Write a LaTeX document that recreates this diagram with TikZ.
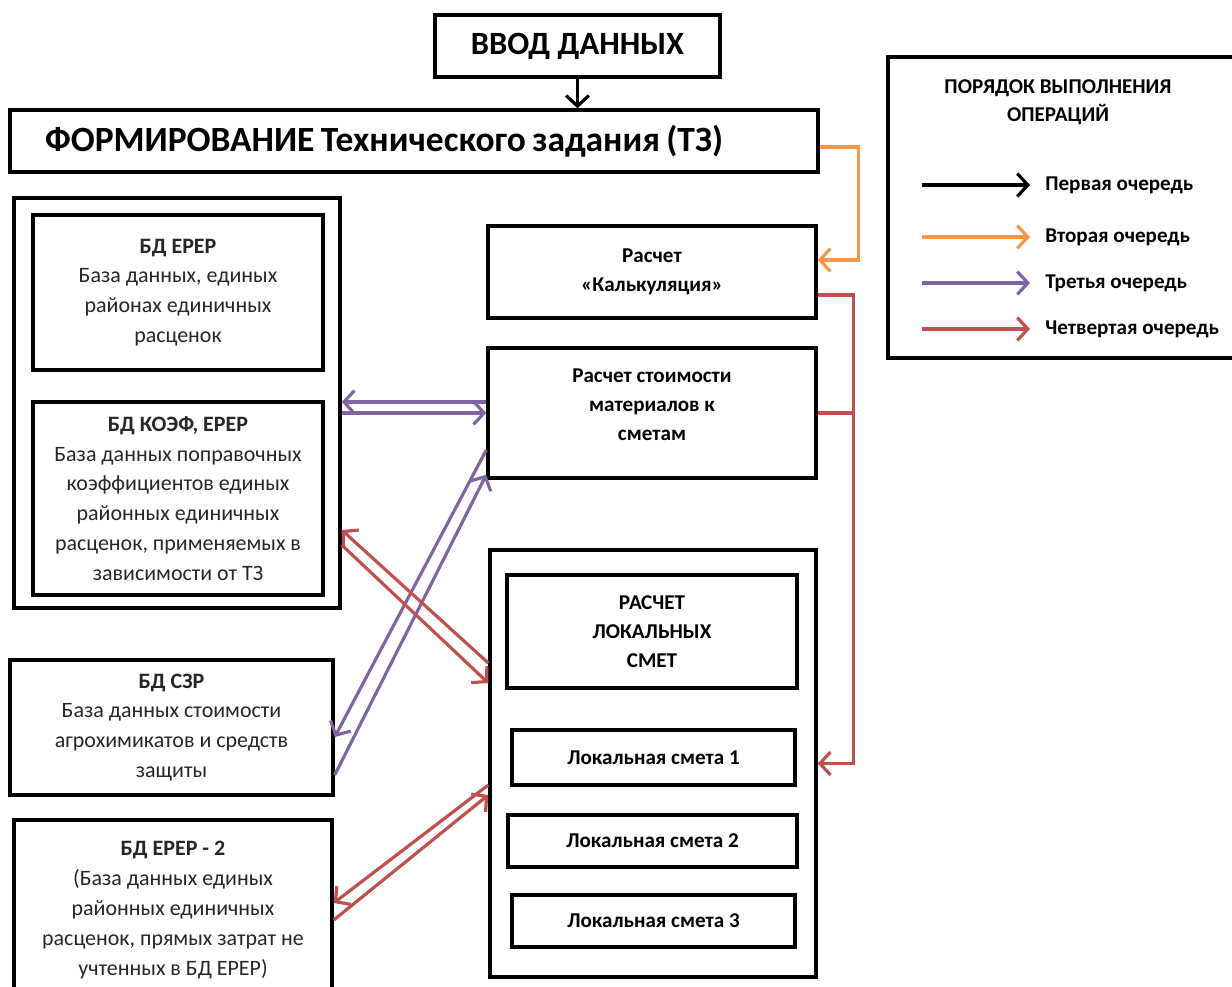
\documentclass[tikz,border=0pt]{standalone}
\usepackage{fontspec}
\setmainfont{Carlito}
\usepackage{tikz}
\usetikzlibrary{arrows.meta}

\definecolor{OpOrange}{HTML}{F79646}
\definecolor{OpPurple}{HTML}{8064A2}
\definecolor{OpRed}{HTML}{C0504D}

\begin{document}
\begin{tikzpicture}[x=0.02cm, y=-0.02cm,
        box/.style={draw, line width=2pt, align=center, inner sep=0pt, text=black!85, font=\fontsize{12.5}{17}\selectfont},
        boldbox/.style={box, text=black, font=\bfseries\fontsize{12}{16.5}\selectfont},
        link/.style={line width=1.8pt, -{Straight Barb[length=6pt,width=13pt]}},
        legtext/.style={anchor=west, inner xsep=0.3cm, font=\bfseries\fontsize{12}{16}\selectfont}]
            \useasboundingbox (0,0) rectangle (1232,987);

            % Top: input and technical task
            \node [boldbox, minimum width=5.7cm, minimum height=1.24cm, font=\bfseries\fontsize{18.5}{22}\selectfont] (vvod) at (577.5,46) {ВВОД ДАННЫХ};
            \node [boldbox, minimum width=16.16cm, minimum height=1.24cm, text width=14.76cm, inner xsep=0.7cm, align=left, font=\bfseries\fontsize{20.2}{23}\selectfont] (tz) at (414,141) {\spaceskip=0.18em ФОРМИРОВАНИЕ Технического задания (ТЗ)};
            \draw [link, color=black] (vvod.south) -- (vvod.south |- tz.north);

            % Left databases
            \node [box, minimum width=6.52cm, minimum height=8.2cm] (grp) at (177,403) {};
            \node [box, minimum width=5.8cm, minimum height=3.1cm] (erep) at (178,292.5) {\textbf{БД ЕРЕР}\\База данных, единых\\районах единичных\\расценок};
            \node [box, minimum width=5.8cm, minimum height=3.86cm] (koef) at (178,498.5) {\textbf{БД КОЭФ, ЕРЕР}\\База данных поправочных\\коэффициентов единых\\районных единичных\\расценок, применяемых в\\зависимости от ТЗ};
            \node [box, minimum width=6.46cm, minimum height=2.7cm] (szr) at (171.5,727.5) {\textbf{БД СЗР}\\База данных стоимости\\агрохимикатов и средств\\защиты};
            \node [box, minimum width=6.36cm, minimum height=3.6cm] (erep2) at (173,910) {\textbf{БД ЕРЕР - 2}\\(База данных единых\\районных единичных\\расценок, прямых затрат не\\учтенных в БД ЕРЕР)};

            % Calculations
            \node [boldbox, minimum width=6.56cm, minimum height=1.84cm] (kalk) at (652,272) {Расчет\\«Калькуляция»};
            \node [boldbox, minimum width=6.56cm, minimum height=2.6cm, text depth=0.34cm] (mat) at (652,413) {Расчет стоимости\\материалов к\\сметам};
            \node [box, minimum width=6.52cm, minimum height=8.54cm] (lok) at (653,763.5) {};
            \node [boldbox, minimum width=5.8cm, minimum height=2.26cm] (raschet) at (652,631.5) {РАСЧЕТ\\ЛОКАЛЬНЫХ\\СМЕТ};
            \node [boldbox, minimum width=5.66cm, minimum height=1.1cm] (sm1) at (653.5,757.5) {Локальная смета 1};
            \node [boldbox, minimum width=5.78cm, minimum height=1.04cm] (sm2) at (652.5,841) {Локальная смета 2};
            \node [boldbox, minimum width=5.66cm, minimum height=1.04cm] (sm3) at (653.5,921) {Локальная смета 3};

            % Second turn
            \draw [link, color=OpOrange] ([yshift=-0.12cm]tz.east) -- ++(39,0) |- ([yshift=0.24cm]kalk.east);

            % Third turn
            \draw [link, color=OpPurple] ([yshift=0.22cm]mat.west) -- ([yshift=0.22cm]mat.west -| grp.east);
            \draw [link, color=OpPurple] ([yshift=-0.2cm]grp.east) -- ([yshift=-0.2cm]grp.east -| mat.west);
            \draw [link, color=OpPurple] ([yshift=-0.74cm]mat.west) -- ([yshift=-0.19cm]szr.east);
            \draw [link, color=OpPurple] ([yshift=-0.95cm]szr.east) -- ([yshift=0.1cm]mat.south west);

            % Fourth turn
            \draw [link, color=OpRed] ([yshift=-0.46cm]kalk.east) -- ++(36,0) coordinate (rj) |- (lok.east);
            \draw [line width=1.8pt, color=OpRed] (mat.east) -- (mat.east -| rj);
            \draw [link, color=OpRed] ([yshift=2.01cm]lok.west) -- ([yshift=-2.54cm]grp.east);
            \draw [link, color=OpRed] ([yshift=-2.84cm]grp.east) -- ([yshift=1.61cm]lok.west);
            \draw [link, color=OpRed] ([yshift=-0.43cm]lok.west) -- ([yshift=0.14cm]erep2.east);
            \draw [link, color=OpRed] ([yshift=-0.2cm]erep2.east) -- ([yshift=-0.63cm]lok.west);

            % Legend
            \node [box, minimum width=7.24cm, minimum height=6.02cm] (legend) at (1069,207.5) {};
            \node [align=center, font=\bfseries\fontsize{12}{16}\selectfont] (legtitle) at (1058,102) {ПОРЯДОК ВЫПОЛНЕНИЯ\\ОПЕРАЦИЙ};
            \foreach \y/\col/\txt [count=\i] in {185/black/Первая очередь, 237/OpOrange/Вторая очередь, 283/OpPurple/Третья очередь, 329/OpRed/Четвертая очередь} {
                \node [legtext] (leg\i) at (1030,\y) {\txt};
                \coordinate (legs\i) at (922,\y);
                \draw [link, color=\col] (legs\i) -- (leg\i.west);
            }
\end{tikzpicture}
\end{document}
